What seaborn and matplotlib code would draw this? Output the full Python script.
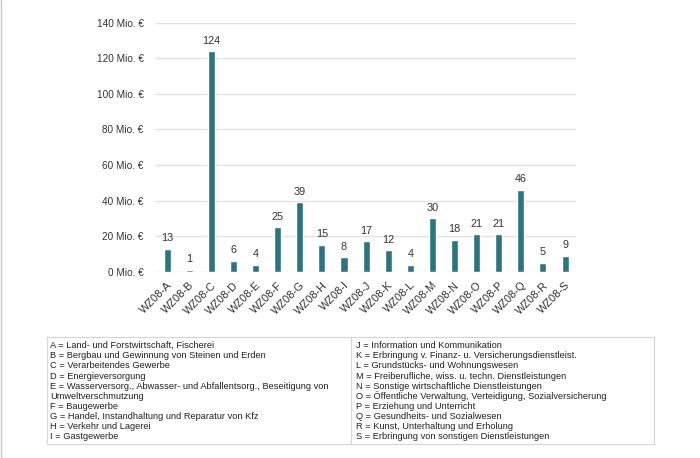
"""Bar chart of amounts per WZ08 economic sector with a key table below."""

import matplotlib

matplotlib.use("Agg")
import matplotlib.pyplot as plt
import pandas as pd
import seaborn as sns
from matplotlib.lines import Line2D

SECTORS = list("ABCDEFGHIJKLMNOPQRS")
CATEGORIES = [f"WZ08-{s}" for s in SECTORS]
VALUES = [13, 1, 124, 6, 4, 25, 39, 15, 8, 17, 12, 4, 30, 18, 21, 21, 46, 5, 9]
Y_TICKS = [0, 20, 40, 60, 80, 100, 120, 140]
Y_TICK_LABELS = [f"{t} Mio. €" for t in Y_TICKS]

KEY_LEFT = [
    "A = Land- und Forstwirtschaft, Fischerei",
    "B = Bergbau und Gewinnung von Steinen und Erden",
    "C = Verarbeitendes Gewerbe",
    "D = Energieversorgung",
    "E = Wasserversorg., Abwasser- und Abfallentsorg., Beseitigung von",
    "Umweltverschmutzung",
    "F = Baugewerbe",
    "G = Handel, Instandhaltung und Reparatur von Kfz",
    "H = Verkehr und Lagerei",
    "I = Gastgewerbe",
]
KEY_RIGHT = [
    "J = Information und Kommunikation",
    "K = Erbringung v. Finanz- u. Versicherungsdienstleist.",
    "L = Grundstücks- und Wohnungswesen",
    "M = Freiberufliche, wiss. u. techn. Dienstleistungen",
    "N = Sonstige wirtschaftliche Dienstleistungen",
    "O = Öffentliche Verwaltung, Verteidigung, Sozialversicherung",
    "P = Erziehung und Unterricht",
    "Q = Gesundheits- und Sozialwesen",
    "R = Kunst, Unterhaltung und Erholung",
    "S = Erbringung von sonstigen Dienstleistungen",
]

BAR_COLOR = "#2a7580"
TEXT_COLOR = "#333333"
GRID_COLOR = "#e3e3e3"

sns.set_theme(style="white")
plt.rcParams["font.family"] = ["Liberation Sans", "DejaVu Sans"]

data = pd.DataFrame({"category": CATEGORIES, "value": VALUES})

fig = plt.figure(figsize=(7.0, 4.58), dpi=100)
ax = fig.add_axes([0.223, 0.4068, 0.6, 0.5436])

sns.barplot(data=data, x="category", y="value", color=BAR_COLOR,
            width=0.32, saturation=1, ax=ax)

ax.set_ylim(0, 140)
ax.set_xlim(-0.5, len(CATEGORIES) - 0.5)
ax.set_yticks(Y_TICKS)
ax.set_yticklabels(Y_TICK_LABELS)
ax.yaxis.grid(True, color=GRID_COLOR, linewidth=1.0)
ax.set_axisbelow(True)
for spine in ax.spines.values():
    spine.set_visible(False)
ax.set_xlabel("")
ax.set_ylabel("")
ax.tick_params(axis="y", labelsize=7.2, colors=TEXT_COLOR, length=0, pad=9)
ax.tick_params(axis="x", labelsize=7.9, colors=TEXT_COLOR, length=0, pad=6)
plt.setp(ax.get_xticklabels(), rotation=45, ha="right", rotation_mode="anchor")

for patch, value in zip(ax.patches, VALUES):
    ax.annotate(
        f"{value}",
        (patch.get_x() + patch.get_width() / 2, patch.get_height()),
        xytext=(0, 4),
        textcoords="offset points",
        ha="center",
        va="bottom",
        fontsize=7.8,
        color=TEXT_COLOR,
    )

# key table below the chart
key_ax = fig.add_axes([47 / 700, 14 / 458, 607 / 700, 107 / 458])
key_ax.set_xlim(0, 1)
key_ax.set_ylim(0, 1)
key_ax.set_xticks([])
key_ax.set_yticks([])
for spine in key_ax.spines.values():
    spine.set_color("#d6d6d6")
    spine.set_linewidth(0.8)
key_ax.axvline(304 / 607, color="#d6d6d6", linewidth=0.8)

line_step = 10.1 / 107
first_line = 1 - 8.8 / 107
for column_x, lines in ((3 / 607, KEY_LEFT), (309 / 607, KEY_RIGHT)):
    for index, line in enumerate(lines):
        key_ax.text(column_x, first_line - index * line_step, line,
                    fontsize=6.7, color="#222222", va="center", ha="left")

fig.add_artist(Line2D([0.001, 0.001], [0, 1], transform=fig.transFigure,
                      color="#c8c8c8", linewidth=1.0))

fig.savefig("out.png", dpi=100)
